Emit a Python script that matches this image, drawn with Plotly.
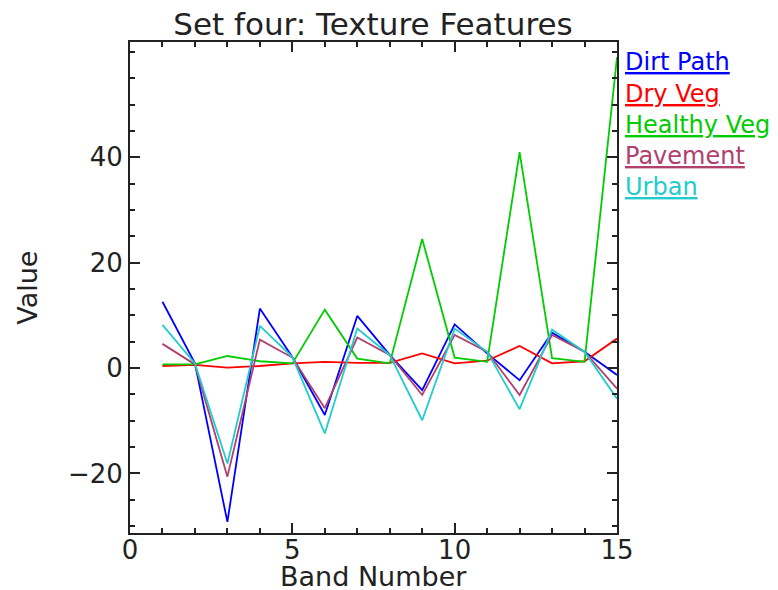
import plotly.graph_objects as go

bands = list(range(1, 16))
series_names = ["Dirt Path", "Dry Veg", "Healthy Veg", "Pavement", "Urban"]
series_colors = ["#0000ff", "#ff0000", "#00cc00", "#b0406e", "#22cccc"]

dirt_path = [12.6, 0.9, -29.2, 11.3, 2.1, -8.9, 9.9, 2.5, -4.2, 8.3, 2.8, -2.3, 6.7, 3.1, -1.3]
dry_veg = [0.4, 0.6, 0.1, 0.4, 0.9, 1.2, 1.0, 1.0, 2.8, 0.9, 1.4, 4.2, 0.9, 1.3, 5.6]
healthy_veg = [0.7, 0.7, 2.3, 1.3, 0.9, 11.1, 1.8, 0.9, 24.5, 2.0, 1.2, 41.0, 1.9, 1.2, 59.0]
pavement = [4.6, 0.7, -20.6, 5.4, 2.0, -7.6, 5.8, 2.5, -5.1, 6.3, 3.1, -5.1, 6.3, 3.1, -3.9]
urban = [8.2, 0.9, -18.1, 8.0, 2.1, -12.4, 7.5, 2.5, -9.9, 7.5, 3.1, -7.8, 7.3, 3.1, -5.8]

all_series = [dirt_path, dry_veg, healthy_veg, pavement, urban]

x_ticks = [0, 5, 10, 15]
y_ticks = [-20, 0, 20, 40]

FONT = "DejaVu Sans"
INK = "#222222"

fig = go.Figure()
for name, color, vals in zip(series_names, series_colors, all_series):
    fig.add_trace(go.Scatter(x=bands, y=vals, mode="lines", name=name,
                             line=dict(color=color, width=1.8), showlegend=False))

legend_y = [0.959, 0.894, 0.831, 0.768, 0.705]
for name, color, yy in zip(series_names, series_colors, legend_y):
    fig.add_annotation(xref="paper", yref="paper", x=1.012, y=yy,
                       xanchor="left", yanchor="middle", showarrow=False,
                       text=f"<span style='text-decoration:underline'>{name}</span>",
                       font=dict(family=FONT, size=24, color=color))

# axis titles
fig.add_annotation(xref="paper", yref="paper", x=0.5, y=-0.088, xanchor="center",
                   yanchor="middle", showarrow=False, text="Band Number",
                   font=dict(family=FONT, size=27, color=INK))
fig.add_annotation(xref="paper", yref="paper", x=-0.211, y=0.5, xanchor="center",
                   yanchor="middle", showarrow=False, text="Value", textangle=-90,
                   font=dict(family=FONT, size=27, color=INK))

axis_common = dict(showgrid=False, zeroline=False, showline=True, linecolor=INK,
                   linewidth=2, ticks="inside", mirror="ticks", tickcolor=INK,
                   tickwidth=2, ticklen=10, automargin=False,
                   tickfont=dict(family=FONT, size=26, color=INK))

fig.update_xaxes(range=[0, 15], tickvals=x_ticks, ticktext=[str(v) for v in x_ticks],
                 minor=dict(dtick=1, ticks="inside", ticklen=5, tickwidth=2, tickcolor=INK),
                 ticklabelstandoff=-7,
                 **axis_common)
fig.update_yaxes(range=[-31.3, 61.9], tickvals=y_ticks, ticktext=["\u221220", "0", "20", "40"],
                 minor=dict(dtick=5, ticks="inside", ticklen=5, tickwidth=2, tickcolor=INK),
                 **axis_common)

# the page body adds an 8px offset; the figure is sized to compensate
fig.update_layout(
    width=770, height=582,
    margin=dict(l=122, r=161, t=34, b=57, autoexpand=False),
    paper_bgcolor="white", plot_bgcolor="white",
    title=dict(text="Set four: Texture Features", x=0.474, xanchor="center",
               y=0.972, yanchor="middle",
               font=dict(family=FONT, size=31, color=INK)),
)

fig.write_html("out.html")
